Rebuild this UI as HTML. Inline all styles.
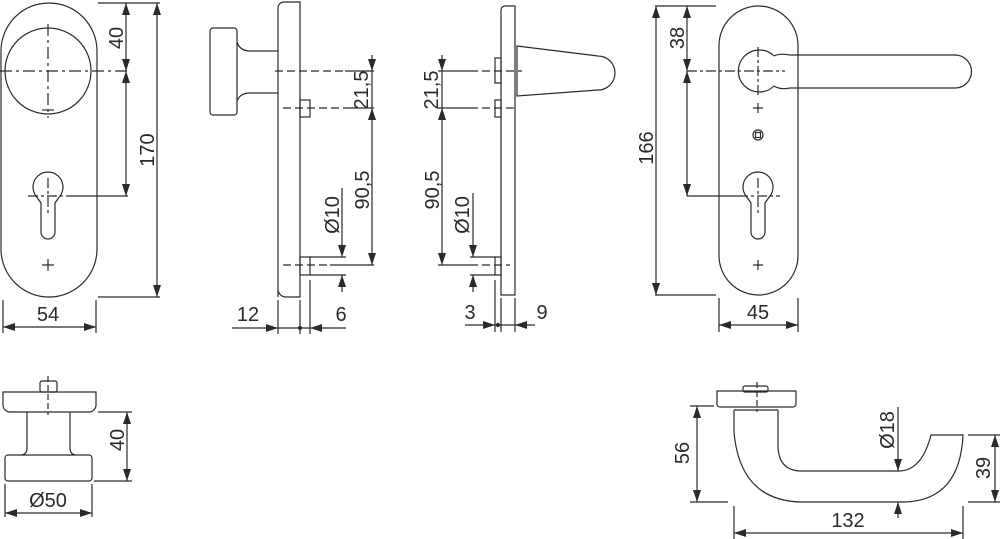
<!DOCTYPE html>
<html><head><meta charset="utf-8"><style>
html,body{margin:0;padding:0;background:#fff}
svg{display:block}
text{font-family:"Liberation Sans",sans-serif;font-size:20px;fill:#2a2a2a}
</style></head><body>
<svg width="1000" height="539" viewBox="0 0 1000 539" xmlns="http://www.w3.org/2000/svg">
<defs>
<marker id="a" markerUnits="userSpaceOnUse" markerWidth="12" markerHeight="8" refX="12" refY="4" orient="auto-start-reverse"><path d="M0,0 L12,4 L0,8 z" fill="#2a2a2a"/></marker>
</defs>
<g fill="none" stroke="#2a2a2a" stroke-width="1.2">
<!-- View 1 front plate -->
<rect x="1" y="3" width="96" height="294" rx="48"/>
<circle cx="48" cy="71" r="43"/>
<path d="M48 24V118M0 71H128" stroke-dasharray="12,4,3,4"/>
<path d="M42 110H54"/>
<path d="M36 196 A15 15 0 1 1 60 196 L55 203 V232 A7 7 0 0 1 41 232 V203 Z"/>
<path d="M48 178V216M28 196H70" stroke-dasharray="10,3,3,3"/>
<path d="M70 196H128"/>
<path d="M42 265H54M48 259V271"/>
<path d="M98 3H160M98 297H160"/>
<line x1="126" y1="3" x2="126" y2="71" marker-start="url(#a)" marker-end="url(#a)"/>
<line x1="126" y1="71" x2="126" y2="196" marker-start="url(#a)" marker-end="url(#a)"/>
<line x1="157" y1="3" x2="157" y2="297" marker-start="url(#a)" marker-end="url(#a)"/>
<path d="M3 300V333M96 300V333"/>
<line x1="3" y1="327" x2="96" y2="327" marker-start="url(#a)" marker-end="url(#a)"/>
<!-- View 2 knob side -->
<path d="M278 297V8 A6 6 0 0 1 284 2 H300 V297 H286 A8 8 0 0 1 278 289"/>
<rect x="210" y="28" width="27" height="87" rx="3"/>
<path d="M237 42 Q240 51 250 51 H278 M237 101 Q240 93 250 93 H278"/>
<rect x="300" y="100" width="10" height="17"/>
<rect x="300" y="257" width="10" height="18"/>
<path d="M275 71H345M283 108H345M283 265H330" stroke-dasharray="8,4"/>
<path d="M345 71H374M345 108H374M330 265H374"/>
<line x1="372" y1="55" x2="372" y2="71" marker-end="url(#a)"/>
<line x1="372" y1="71" x2="372" y2="108"/>
<line x1="372" y1="108" x2="372" y2="265" marker-start="url(#a)" marker-end="url(#a)"/>
<path d="M310 257H346M310 275H346"/>
<line x1="342" y1="188" x2="342" y2="257" marker-end="url(#a)"/>
<line x1="342" y1="292" x2="342" y2="275" marker-end="url(#a)"/>
<path d="M278 300V334M300 300V334M310 280V334"/>
<line x1="232" y1="328" x2="278" y2="328" marker-end="url(#a)"/>
<line x1="278" y1="328" x2="310" y2="328"/>
<line x1="346" y1="328" x2="310" y2="328" marker-end="url(#a)"/>
<circle cx="300" cy="328" r="1.5" fill="#2a2a2a"/>
<!-- View 3 lever side -->
<path d="M501 295V10 A4 4 0 0 1 505 6 H515 V295 Z"/>
<path d="M517 46 L598 56 A17 17 0 0 1 598 90 L517 96 Z"/>
<rect x="495" y="58" width="6" height="25"/>
<rect x="495" y="100" width="6" height="17"/>
<rect x="495" y="257" width="6" height="18"/>
<path d="M470 71H522M470 108H515M470 265H510" stroke-dasharray="8,4"/>
<path d="M438 71H470M438 108H470M438 265H470"/>
<line x1="442" y1="55" x2="442" y2="71" marker-end="url(#a)"/>
<line x1="442" y1="71" x2="442" y2="108"/>
<line x1="442" y1="108" x2="442" y2="265" marker-start="url(#a)" marker-end="url(#a)"/>
<path d="M470 257H495M470 275H495"/>
<line x1="473" y1="193" x2="473" y2="257" marker-end="url(#a)"/>
<line x1="473" y1="292" x2="473" y2="275" marker-end="url(#a)"/>
<path d="M495 280V332M501 298V332M515 298V332"/>
<line x1="465" y1="325" x2="495" y2="325" marker-end="url(#a)"/>
<line x1="495" y1="325" x2="515" y2="325"/>
<line x1="535" y1="325" x2="515" y2="325" marker-end="url(#a)"/>
<circle cx="498" cy="325" r="1.5" fill="#2a2a2a"/>
<!-- View 4 front lever -->
<rect x="719" y="6" width="79" height="289" rx="39.5"/>
<path d="M774 56 Q780 53 790 55 H955 A16.5 16.5 0 0 1 955 88 H790 Q780 90 774 86"/>
<path d="M774 56 A21 21 0 1 0 774 86"/>
<path d="M758 47V95M687 71H785" stroke-dasharray="10,3,3,3"/>
<path d="M753 108H763M758 103V113"/>
<circle cx="758" cy="135" r="5"/>
<rect x="755.5" y="132.5" width="5" height="5"/>
<path d="M746 196 A15 15 0 1 1 770 196 L765 203 V232 A7 7 0 0 1 751 232 V203 Z"/>
<path d="M758 178V216M738 196H780" stroke-dasharray="10,3,3,3"/>
<path d="M687 196H738"/>
<path d="M753 265H763M758 260V270"/>
<path d="M655 6H716M655 295H716"/>
<line x1="687" y1="6" x2="687" y2="71" marker-start="url(#a)" marker-end="url(#a)"/>
<line x1="687" y1="71" x2="687" y2="196" marker-start="url(#a)" marker-end="url(#a)"/>
<line x1="656" y1="6" x2="656" y2="295" marker-start="url(#a)" marker-end="url(#a)"/>
<path d="M719 298V332M798 298V332"/>
<line x1="719" y1="325" x2="798" y2="325" marker-start="url(#a)" marker-end="url(#a)"/>
<!-- Bottom-left knob -->
<rect x="40" y="381" width="17" height="11" rx="2"/>
<path d="M3 392H96V405 A7 7 0 0 1 89 412 H10 A7 7 0 0 1 3 405 Z"/>
<path d="M48 376V415" stroke-dasharray="6,3"/>
<path d="M27 412V448 Q27 454 22 455 M70 412V448 Q70 454 75 455"/>
<rect x="5" y="455" width="87" height="26" rx="3"/>
<path d="M98 412H132M94 481H132"/>
<line x1="127" y1="412" x2="127" y2="481" marker-start="url(#a)" marker-end="url(#a)"/>
<path d="M5 484V517M92 484V517"/>
<line x1="5" y1="513" x2="92" y2="513" marker-start="url(#a)" marker-end="url(#a)"/>
<!-- Bottom-right lever -->
<rect x="743" y="386" width="25" height="6" rx="2"/>
<path d="M717 391H796V404 A3 3 0 0 1 793 407 H720 A3 3 0 0 1 717 404 Z"/>
<path d="M757 382V412" stroke-dasharray="6,3"/>
<path d="M734 410H778"/>
<path d="M734 410 V432 Q740 500 800 502 H905 Q960 500 963 435 H931 Q922 470 900 471 H800 Q778 470 778 445 V410"/>
<path d="M690 406H714M690 502H728M968 435H1000M968 502H1000"/>
<line x1="697" y1="406" x2="697" y2="502" marker-start="url(#a)" marker-end="url(#a)"/>
<line x1="995" y1="435" x2="995" y2="502" marker-start="url(#a)" marker-end="url(#a)"/>
<line x1="898" y1="407" x2="898" y2="471" marker-end="url(#a)"/>
<line x1="898" y1="518" x2="898" y2="502" marker-end="url(#a)"/>
<path d="M734 506V539M963 506V539"/>
<line x1="734" y1="533" x2="963" y2="533" marker-start="url(#a)" marker-end="url(#a)"/>
</g>
<g>
<text transform="translate(123,38) rotate(-90)" text-anchor="middle">40</text>
<text transform="translate(154,150) rotate(-90)" text-anchor="middle">170</text>
<text x="48" y="321" text-anchor="middle">54</text>
<text transform="translate(368,90) rotate(-90)" text-anchor="middle">21,5</text>
<text transform="translate(369,190) rotate(-90)" text-anchor="middle">90,5</text>
<text transform="translate(339,215) rotate(-90)" text-anchor="middle">Ø10</text>
<text x="248" y="321" text-anchor="middle">12</text>
<text x="341" y="321" text-anchor="middle">6</text>
<text transform="translate(438,90) rotate(-90)" text-anchor="middle">21,5</text>
<text transform="translate(439,190) rotate(-90)" text-anchor="middle">90,5</text>
<text transform="translate(469,215) rotate(-90)" text-anchor="middle">Ø10</text>
<text x="470" y="319" text-anchor="middle">3</text>
<text x="542" y="319" text-anchor="middle">9</text>
<text transform="translate(684,38) rotate(-90)" text-anchor="middle">38</text>
<text transform="translate(653,148) rotate(-90)" text-anchor="middle">166</text>
<text x="758" y="319" text-anchor="middle">45</text>
<text transform="translate(124,440) rotate(-90)" text-anchor="middle">40</text>
<text x="48" y="507" text-anchor="middle">Ø50</text>
<text transform="translate(689,453) rotate(-90)" text-anchor="middle">56</text>
<text transform="translate(990,468) rotate(-90)" text-anchor="middle">39</text>
<text transform="translate(894,430) rotate(-90)" text-anchor="middle">Ø18</text>
<text x="848" y="527" text-anchor="middle">132</text>
</g>
</svg>
</body></html>
